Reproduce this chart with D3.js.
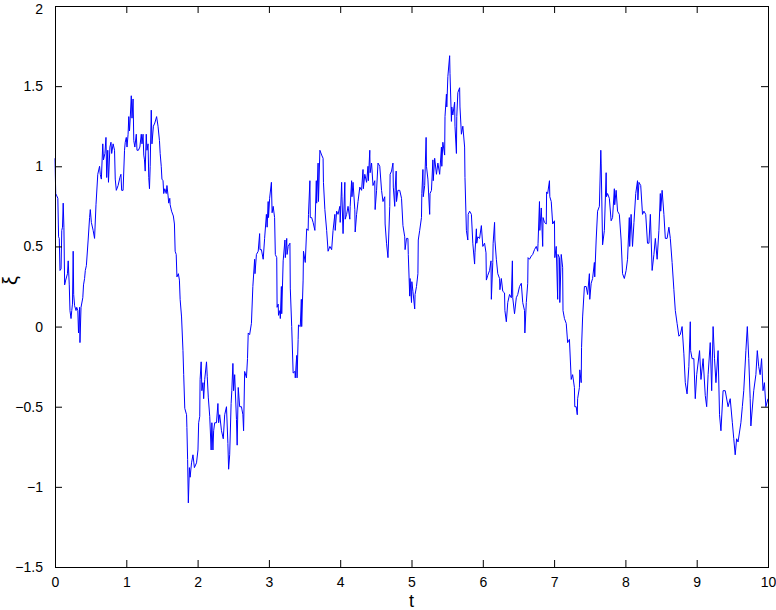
<!DOCTYPE html>
<html><head><meta charset="utf-8">
<script src="https://cdn.jsdelivr.net/npm/d3@7"></script>
<style>html,body{margin:0;padding:0;background:#fff;}svg{display:block;font-family:"Liberation Sans",Arial,sans-serif;}</style>
</head><body><svg id="c" width="776" height="610"></svg>
<script>
const xTicks = [0,1,2,3,4,5,6,7,8,9,10];
const yTicks = [-1.5,-1,-0.5,0,0.5,1,1.5,2];
const xLabel = "t";
const yLabel = "ξ";
// sampled path of xi(t): [t, value]
const series = [
[0,1.05],[0.01,0.83],[0.02,0.82],[0.04,0.80],[0.05,0.56],[0.06,0.55],[0.07,0.35],[0.085,0.36],[0.095,0.6],[0.105,0.62],[0.115,0.77],
[0.125,0.62],[0.135,0.26],[0.15,0.29],[0.175,0.33],[0.185,0.41],[0.2,0.26],[0.21,0.10],[0.225,0.05],[0.235,0.10],[0.245,0.14],[0.255,0.47],[0.262,0.2],
[0.275,0.13],[0.295,0.1],[0.305,0.12],[0.32,0.10],[0.33,-0.04],[0.345,0.12],[0.35,-0.10],[0.365,0.12],[0.39,0.18],[0.40,0.26],[0.415,0.30],[0.425,0.35],
[0.44,0.38],[0.465,0.54],[0.485,0.68],[0.495,0.73],[0.51,0.65],[0.535,0.60],[0.555,0.55],[0.575,0.76],[0.60,0.95],[0.625,1.0],[0.635,0.95],[0.65,0.92],
[0.67,1.14],[0.68,1.04],[0.70,1.08],[0.715,1.18],[0.725,0.93],[0.74,1.1],[0.75,0.9],[0.77,1.12],[0.785,1.15],[0.795,1.08],[0.815,1.14],[0.835,1.1],[0.845,0.92],
[0.86,0.85],[0.885,0.88],[0.91,0.93],[0.925,0.95],[0.935,0.85],[0.955,0.85],[0.975,1.1],[0.985,1.15],[1.0,1.18],[1.01,1.12],[1.025,1.2],[1.035,1.31],
[1.045,1.22],[1.055,1.3],[1.07,1.44],[1.08,1.30],[1.095,1.42],[1.105,1.16],[1.12,1.12],[1.14,1.2],[1.15,1.1],[1.17,1.1],[1.19,1.12],[1.21,1.2],[1.22,1.14],
[1.235,1.2],[1.245,1.07],[1.255,1.04],[1.265,0.97],[1.28,1.2],[1.29,1.1],[1.305,1.14],[1.315,0.93],[1.325,0.86],[1.335,1.0],[1.35,1.35],[1.36,1.14],
[1.38,1.25],[1.40,1.27],[1.425,1.31],[1.445,1.25],[1.465,1.16],[1.475,1.08],[1.49,1.0],[1.50,0.92],[1.515,0.91],[1.525,0.83],[1.54,0.86],[1.56,0.83],[1.57,0.88],
[1.585,0.82],[1.595,0.77],[1.61,0.8],[1.615,0.76],[1.635,0.72],[1.66,0.69],[1.675,0.64],[1.685,0.47],[1.70,0.45],[1.71,0.31],[1.73,0.33],[1.745,0.29],[1.755,0.17],
[1.775,0.06],[1.795,-0.15],[1.805,-0.30],[1.82,-0.51],[1.845,-0.55],[1.85,-0.63],[1.86,-0.83],[1.87,-1.1],[1.885,-0.88],[1.895,-0.94],[1.915,-0.85],[1.935,-0.8],
[1.955,-0.88],[1.985,-0.85],[2.005,-0.77],[2.015,-0.6],[2.03,-0.56],[2.035,-0.33],[2.05,-0.22],[2.06,-0.4],[2.075,-0.35],[2.085,-0.45],[2.10,-0.33],
[2.125,-0.22],[2.135,-0.31],[2.15,-0.44],[2.17,-0.56],[2.19,-0.77],[2.20,-0.6],[2.215,-0.77],[2.225,-0.65],[2.24,-0.6],[2.265,-0.6],[2.285,-0.48],[2.295,-0.6],
[2.31,-0.55],[2.335,-0.65],[2.36,-0.7],[2.38,-0.55],[2.405,-0.5],[2.425,-0.73],[2.435,-0.89],[2.45,-0.8],[2.47,-0.48],[2.48,-0.4],[2.495,-0.23],[2.505,-0.4],
[2.52,-0.3],[2.545,-0.58],[2.555,-0.74],[2.57,-0.38],[2.59,-0.5],[2.615,-0.5],[2.635,-0.55],[2.645,-0.65],[2.66,-0.28],[2.685,-0.32],[2.70,-0.2],[2.71,-0.04],
[2.73,-0.05],[2.755,0.02],[2.775,0.25],[2.80,0.42],[2.805,0.33],[2.825,0.45],[2.85,0.47],[2.87,0.58],[2.875,0.48],[2.895,0.48],[2.92,0.42],[2.94,0.55],
[2.965,0.7],[2.975,0.62],[2.99,0.78],[2.995,0.68],[3.01,0.8],[3.035,0.9],[3.045,0.71],[3.06,0.75],[3.08,0.68],[3.09,0.45],[3.11,0.43],[3.115,0.12],
[3.13,0.14],[3.135,0.07],[3.155,0.1],[3.16,0.05],[3.175,0.25],[3.18,0.08],[3.20,0.41],[3.225,0.54],[3.23,0.43],[3.25,0.55],[3.255,0.45],[3.27,0.5],
[3.295,0.52],[3.30,0.24],[3.32,0.0],[3.34,-0.29],[3.365,-0.28],[3.37,-0.32],[3.39,-0.18],[3.395,-0.32],[3.41,-0.08],[3.415,0.01],[3.44,0.0],[3.455,0.17],
[3.46,0.0],[3.48,0.29],[3.485,0.47],[3.51,0.4],[3.53,0.61],[3.55,0.6],[3.555,0.7],[3.575,0.91],[3.58,0.68],[3.60,0.68],[3.62,0.65],[3.645,0.6],[3.665,0.91],
[3.67,0.77],[3.69,1.02],[3.695,0.78],[3.715,1.1],[3.74,1.07],[3.76,1.05],[3.765,0.9],[3.785,0.73],[3.81,0.6],[3.83,0.47],[3.855,0.5],[3.88,0.48],[3.90,0.6],
[3.925,0.7],[3.93,0.6],[3.95,0.72],[3.97,0.7],[3.995,0.75],[4.0,0.65],[4.02,0.9],[4.025,0.81],[4.04,0.58],[4.065,0.9],[4.07,0.67],[4.09,0.7],[4.11,0.75],
[4.135,0.67],[4.14,0.75],[4.16,0.91],[4.165,0.81],[4.18,0.9],[4.205,0.73],[4.21,0.59],[4.23,0.7],[4.25,0.78],[4.275,0.87],[4.30,0.85],[4.32,0.98],[4.325,0.86],
[4.345,0.95],[4.37,0.9],[4.39,1.0],[4.395,0.91],[4.415,1.1],[4.42,0.96],[4.44,1.02],[4.46,0.88],[4.485,0.91],[4.49,0.73],[4.51,0.85],[4.53,1.02],[4.555,1.0],
[4.58,0.85],[4.60,0.78],[4.625,0.81],[4.63,0.64],[4.65,0.52],[4.67,0.43],[4.695,0.75],[4.70,0.95],[4.72,0.97],[4.74,1.02],[4.745,0.87],[4.765,0.75],[4.77,0.85],
[4.785,0.97],[4.79,0.78],[4.81,0.85],[4.835,0.85],[4.86,0.8],[4.88,0.63],[4.905,0.56],[4.91,0.48],[4.93,0.55],[4.95,0.55],[4.955,0.45],[4.975,0.19],[4.98,0.3],
[5.0,0.15],[5.005,0.28],[5.02,0.22],[5.045,0.11],[5.05,0.2],[5.07,0.25],[5.09,0.33],[5.095,0.54],[5.115,0.6],[5.14,0.68],[5.145,0.83],[5.16,0.98],[5.165,0.81],
[5.185,0.88],[5.205,1.18],[5.21,1.0],[5.23,0.92],[5.255,0.7],[5.26,0.83],[5.28,0.85],[5.30,1.04],[5.305,0.91],[5.325,1.05],[5.35,0.95],[5.37,1.02],[5.395,0.95],
[5.42,1.12],[5.425,1.0],[5.44,1.15],[5.465,1.07],[5.47,1.31],[5.49,1.45],[5.495,1.37],[5.51,1.56],[5.535,1.69],[5.54,1.58],[5.56,1.28],[5.565,1.37],[5.58,1.32],
[5.605,1.4],[5.61,1.25],[5.63,1.08],[5.635,1.31],[5.65,1.46],[5.675,1.49],[5.68,1.37],[5.70,1.2],[5.72,1.25],[5.745,1.12],[5.75,0.93],[5.77,0.6],[5.79,0.54],
[5.795,0.7],[5.815,0.72],[5.84,0.7],[5.86,0.52],[5.885,0.39],[5.89,0.46],[5.91,0.61],[5.915,0.52],[5.93,0.56],[5.955,0.55],[5.98,0.63],[6.0,0.5],[6.025,0.52],
[6.045,0.46],[6.05,0.29],[6.07,0.32],[6.095,0.35],[6.115,0.41],[6.12,0.17],[6.14,0.4],[6.145,0.52],[6.165,0.65],[6.17,0.54],[6.19,0.42],[6.21,0.33],[6.235,0.3],
[6.24,0.23],[6.26,0.3],[6.28,0.22],[6.305,0.21],[6.31,0.1],[6.33,0.03],[6.35,0.15],[6.375,0.2],[6.40,0.18],[6.415,0.41],[6.42,0.18],[6.445,0.08],[6.47,0.18],
[6.49,0.2],[6.515,0.25],[6.54,0.27],[6.56,0.15],[6.585,0.1],[6.59,-0.04],[6.61,0.15],[6.63,0.27],[6.635,0.43],[6.655,0.42],[6.68,0.44],[6.70,0.45],[6.725,0.48],
[6.75,0.5],[6.77,0.47],[6.775,0.52],[6.795,0.78],[6.80,0.6],[6.82,0.74],[6.84,0.5],[6.845,0.68],[6.865,0.65],[6.89,0.64],[6.895,0.84],[6.91,0.83],[6.935,0.91],
[6.94,0.81],[6.96,0.78],[6.98,0.64],[7.005,0.66],[7.01,0.43],[7.03,0.5],[7.05,0.17],[7.055,0.45],[7.075,0.43],[7.08,0.15],[7.10,0.45],[7.12,0.37],[7.125,0.1],
[7.145,0.05],[7.17,0.02],[7.19,-0.1],[7.215,-0.08],[7.24,-0.33],[7.26,-0.3],[7.285,-0.38],[7.29,-0.5],[7.31,-0.5],[7.325,-0.55],[7.33,-0.45],[7.355,-0.38],
[7.36,-0.27],[7.38,-0.35],[7.385,-0.13],[7.40,0.06],[7.425,0.25],[7.45,0.25],[7.47,0.2],[7.495,0.33],[7.50,0.17],[7.52,0.27],[7.54,0.3],[7.565,0.4],[7.57,0.31],
[7.59,0.54],[7.61,0.72],[7.635,0.75],[7.655,1.1],[7.66,1.02],[7.68,0.51],[7.705,0.6],[7.73,0.96],[7.735,0.81],[7.75,0.83],[7.775,0.8],[7.80,0.66],[7.82,0.68],
[7.845,0.86],[7.85,0.76],[7.87,0.85],[7.89,0.72],[7.915,0.7],[7.94,0.54],[7.96,0.33],[7.985,0.3],[8.01,0.35],[8.03,0.42],[8.055,0.68],[8.06,0.5],[8.08,0.7],
[8.10,0.5],[8.12,0.65],[8.145,0.83],[8.17,0.91],[8.175,0.79],[8.19,0.9],[8.215,0.88],[8.24,0.7],[8.26,0.72],[8.285,0.7],[8.31,0.52],[8.33,0.52],[8.35,0.7],
[8.375,0.35],[8.40,0.45],[8.42,0.55],[8.445,0.42],[8.47,0.6],[8.49,0.83],[8.495,0.72],[8.515,0.85],[8.54,0.7],[8.56,0.55],[8.585,0.55],[8.61,0.62],[8.63,0.55],
[8.655,0.4],[8.68,0.23],[8.70,0.1],[8.725,0.02],[8.75,-0.06],[8.77,-0.05],[8.795,0.0],[8.82,-0.17],[8.84,-0.35],[8.865,-0.42],[8.89,-0.25],[8.91,0.03],
[8.915,-0.15],[8.935,-0.2],[8.96,-0.2],[8.98,-0.45],[9.0,-0.3],[9.04,-0.15],[9.06,-0.33],[9.09,-0.2],[9.12,-0.43],[9.14,-0.5],[9.16,-0.3],[9.19,-0.1],
[9.21,-0.4],[9.23,0.0],[9.25,-0.2],[9.27,-0.35],[9.30,-0.15],[9.32,-0.55],[9.34,-0.65],[9.37,-0.4],[9.40,-0.4],[9.44,-0.5],[9.47,-0.45],[9.50,-0.6],
[9.52,-0.7],[9.54,-0.8],[9.56,-0.7],[9.58,-0.72],[9.62,-0.6],[9.64,-0.5],[9.66,-0.4],[9.69,-0.15],[9.71,0.0],[9.73,-0.2],[9.75,-0.45],[9.76,-0.62],
[9.80,-0.4],[9.83,-0.3],[9.85,-0.15],[9.87,-0.25],[9.89,-0.3],[9.91,-0.2],[9.93,-0.4],[9.95,-0.35],[9.97,-0.5],[10.0,-0.45]
];

const svg = d3.select("#c");
const m = {l:55, r:768, t:6, b:567};
const xScale = d3.scaleLinear().domain([0,10]).range([m.l, m.r]);
const yScale = d3.scaleLinear().domain([-1.5,2]).range([m.b, m.t]);
const tickLen = 7;

const g = svg.append("g");
g.append("path").datum(series)
  .attr("fill","none").attr("stroke","#0000ff").attr("stroke-width",1)
  .attr("d", d3.line().x(d=>xScale(d[0])).y(d=>yScale(d[1])));

const fmt = v => (v<0 ? "\u2212" + Math.abs(v) : String(v));
const axB = d3.axisBottom(xScale).tickValues(xTicks).tickSizeInner(-tickLen).tickSizeOuter(0).tickPadding(10).tickFormat(fmt);
const axT = d3.axisTop(xScale).tickValues(xTicks).tickSizeInner(-tickLen).tickSizeOuter(0).tickFormat("");
const axL = d3.axisLeft(yScale).tickValues(yTicks).tickSizeInner(-tickLen).tickSizeOuter(0).tickPadding(12).tickFormat(fmt);
const axR = d3.axisRight(yScale).tickValues(yTicks).tickSizeInner(-tickLen).tickSizeOuter(0).tickFormat("");

function styleAxis(sel){
  sel.select(".domain").remove();
  sel.selectAll("line").attr("stroke","#000").attr("stroke-width",1);
  sel.selectAll("text").attr("fill","#000").style("font-size","14px").style("font-family","Liberation Sans, Arial, sans-serif");
}
g.append("g").attr("transform",`translate(0,${m.b})`).call(axB).call(styleAxis);
g.append("g").attr("transform",`translate(0,${m.t})`).call(axT).call(styleAxis);
const leftG = g.append("g").attr("transform",`translate(${m.l},0)`).call(axL).call(styleAxis);
// keep the top label "2" fully inside the page
leftG.selectAll(".tick text").filter(d => d === 2).attr("dy","0.5em");
g.append("g").attr("transform",`translate(${m.r},0)`).call(axR).call(styleAxis);

g.append("rect").attr("x",m.l+0.5).attr("y",m.t+0.5).attr("width",m.r-m.l).attr("height",m.b-m.t)
  .attr("fill","none").attr("stroke","#000").attr("stroke-width",1);

svg.append("text").attr("x",(m.l+m.r)/2).attr("y",607).attr("text-anchor","middle")
  .style("font-size","18px").text(xLabel);
svg.append("text").attr("transform",`translate(17,${(m.t+m.b)/2 - 6}) rotate(-90)`).attr("text-anchor","middle")
  .style("font-size","20px").text(yLabel);
</script></body></html>
